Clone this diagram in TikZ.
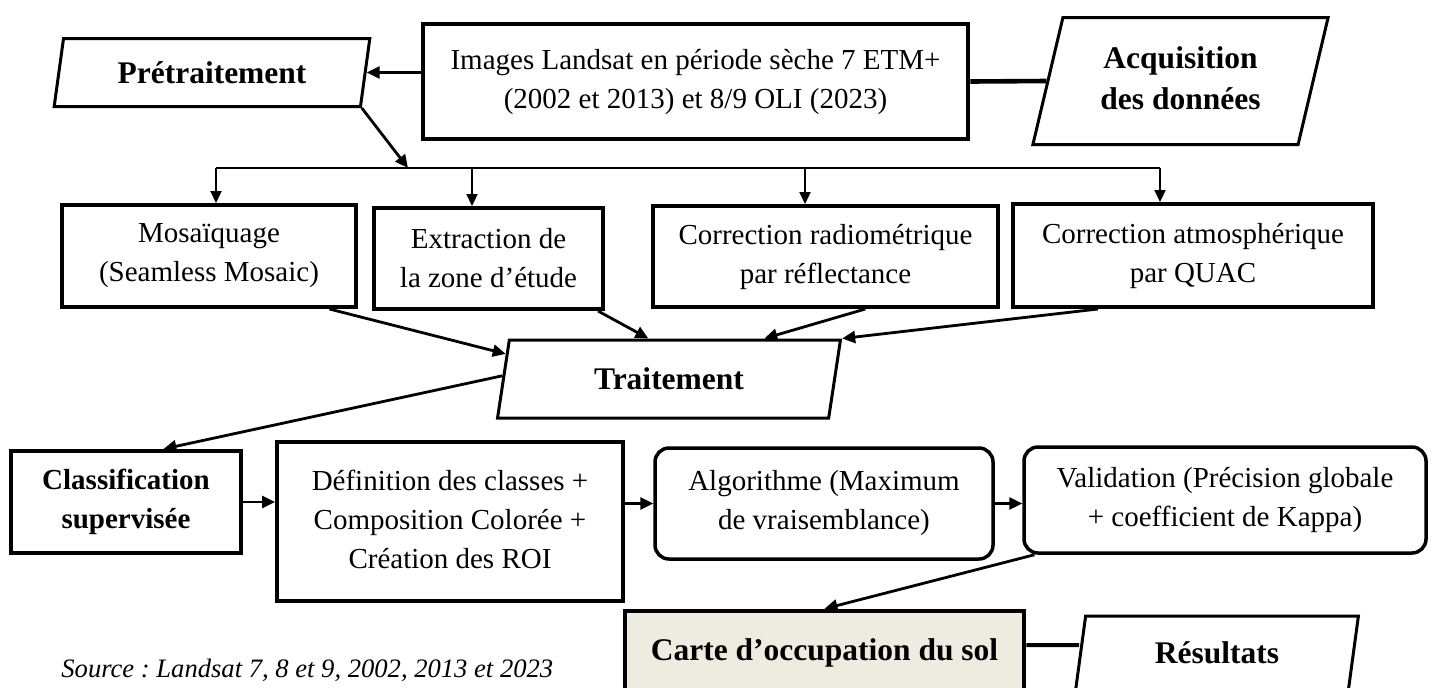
\documentclass[tikz,border=0pt]{standalone}
\usepackage{fontspec}
\setmainfont{Liberation Serif}
\usetikzlibrary{shapes.geometric,arrows.meta,calc}
\frenchspacing
\newcommand\rgfont{\fontsize{14.5pt}{19.5pt}\selectfont}
\newcommand\bdfont{\fontsize{15.75pt}{20.5pt}\selectfont\bfseries}
\newcommand\bdsfont{\fontsize{14.5pt}{19.5pt}\selectfont\bfseries}
\definecolor{beige}{RGB}{238,236,225}
\tikzset{
  box/.style={draw, line width=2pt, inner sep=0pt, align=center, font=\rgfont},
  rbox/.style={draw, line width=1.75pt, rounded corners=7pt, inner sep=0pt, align=center, font=\rgfont},
  para/.style={draw, line width=1.5pt, trapezium, trapezium stretches=true,
    trapezium left angle=#1, trapezium right angle=180-#1, inner sep=0pt, align=center, font=\bdfont},
  arr/.style={-{Triangle[length=6.5pt,width=6pt]}, line width=1.4pt},
  barr/.style={-{Triangle[length=6pt,width=5.5pt]}, line width=1.1pt},
  bus/.style={line width=1.1pt},
  link/.style={line width=2.3pt}
}
\begin{document}
\begin{tikzpicture}[x=0.5pt,y=-0.5pt]
\useasboundingbox (0,0) rectangle (1434,687);
% nodes
\node[para=75, minimum width=159pt, minimum height=34pt] (pre) at (212,72.5) {\raisebox{-4pt}{Prétraitement}};
\node[box, line width=2.25pt, minimum width=272.5pt, minimum height=57.5pt] (img) at (695.5,81.5)
  {Images Landsat en période sèche 7 ETM+\\(2002 et 2013) et 8/9 OLI (2023)};
\node[para=76, minimum width=148.5pt, minimum height=63.5pt] (acq) at (1180.5,81)
  {\raisebox{-5pt}{\begin{tabular}{@{}c@{}}Acquisition\\des données\end{tabular}}};
\node[box, minimum width=147pt, minimum height=51pt] (mos) at (209,256) {Mosaïquage\\(Seamless Mosaic)};
\node[box, minimum width=114.5pt, minimum height=50.5pt] (ext) at (488.5,258.5) {Extraction de\\la zone d’étude};
\node[box, minimum width=172.5pt, minimum height=50.5pt] (rad) at (825.5,256.5) {Correction radiométrique\\par réflectance};
\node[box, minimum width=180pt, minimum height=51.5pt] (atm) at (1193,255.5) {Correction atmosphérique\\par QUAC};
\node[para=76, minimum width=172pt, minimum height=39pt] (trt) at (669,379) {Traitement};
\node[box, font=\bdsfont, minimum width=115pt, minimum height=51pt] (cls) at (126,502) {Classification\\supervisée};
\node[box, minimum width=173pt, minimum height=79.5pt] (def) at (450,521.5)
  {\raisebox{7pt}{\begin{tabular}{@{}c@{}}Définition des classes +\\Composition Colorée +\\Création des ROI\end{tabular}}};
\node[rbox, minimum width=169pt, minimum height=55.5pt] (alg) at (824,503.5) {Algorithme (Maximum\\de vraisemblance)};
\node[rbox, minimum width=201pt, minimum height=53pt] (val) at (1225,500) {Validation (Précision globale\\+ coefficient de Kappa)};
\node[box, line width=2.25pt, fill=beige, font=\bdfont, minimum width=199.5pt, minimum height=42pt] (carte) at (824.5,653) {Carte d’occupation du sol};
\node[para=78, minimum width=142pt, minimum height=37pt] (res) at (1217,653) {Résultats};
\node[anchor=base west, inner sep=0pt, font=\fontsize{13.3pt}{16pt}\selectfont\itshape] (src) at (61,677)
  {Source : Landsat 7, 8 et 9, 2002, 2013 et 2023};
% bus coordinates
\coordinate (bA) at (408,168);
\coordinate (b1) at (216,168);
\coordinate (b2) at (472,168);
\coordinate (b3) at (805,168);
\coordinate (b4) at (1160,168);
% connectors
\draw[arr] (img.west |- pre.east) -- (pre.east);
\draw[link] (img.east) -- (acq.west);
\draw[arr] (pre.bottom right corner) -- (bA);
\draw[bus] (b1) -- (b4);
\draw[barr] (b1) -- (b1 |- mos.north);
\draw[barr] (b2) -- (b2 |- ext.north);
\draw[barr] (b3) -- (b3 |- rad.north);
\draw[barr] (b4) -- (b4 |- atm.north);
\draw[arr] ($(mos.south west)!0.904!(mos.south east)$) -- ($(trt.top left corner)!0.19!(trt.bottom left corner)$);
\draw[arr] ($(ext.south west)!0.97!(ext.south east)$) -- ($(trt.top left corner)!0.42!(trt.top right corner)$);
\draw[arr] ($(rad.south west)!0.614!(rad.south east)$) -- ($(trt.top left corner)!0.767!(trt.top right corner)$);
\draw[arr] ($(atm.south west)!0.239!(atm.south east)$) -- (trt.top right corner);
\draw[arr] ($(trt.top left corner)!0.46!(trt.bottom left corner)$) -- ($(cls.north west)!0.66!(cls.north east)$);
\draw[arr] (cls.east) -- (cls.east -| def.west);
\draw[arr] (def.east |- alg.west) -- (alg.west);
\draw[arr] (alg.east) -- (alg.east -| val.west);
\draw[arr] ($(val.south west)!0.03!(val.south east)$) -- (carte.north);
\draw[link, line width=2pt] ([yshift=4pt]carte.east) -- ([yshift=4pt]res.west);
\end{tikzpicture}
\end{document}
